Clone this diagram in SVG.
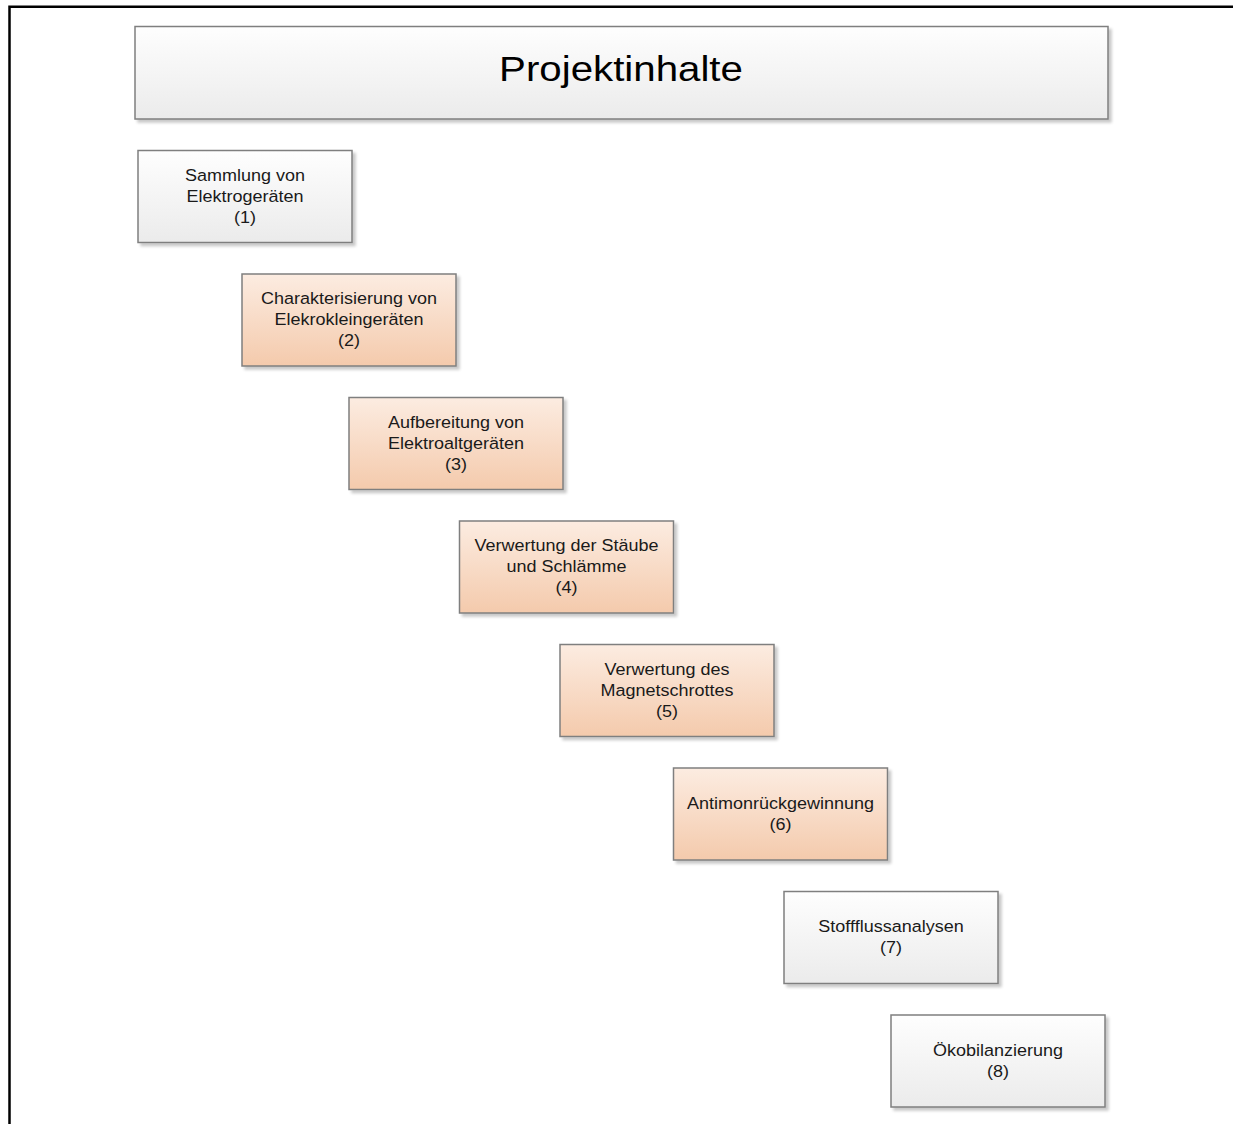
<svg xmlns="http://www.w3.org/2000/svg" width="1233" height="1124" viewBox="0 0 1233 1124">
  <defs>
    <linearGradient id="gGrey" x1="0" y1="0" x2="0" y2="1">
      <stop offset="0" stop-color="#fefefe"/>
      <stop offset="1" stop-color="#ebebeb"/>
    </linearGradient>
    <linearGradient id="gPeach" x1="0" y1="0" x2="0" y2="1">
      <stop offset="0" stop-color="#fcece1"/>
      <stop offset="1" stop-color="#f4caac"/>
    </linearGradient>
    <filter id="shadow" x="-5%" y="-5%" width="115%" height="120%">
      <feGaussianBlur in="SourceAlpha" stdDeviation="1.5"/>
      <feOffset dx="3" dy="3" result="b"/>
      <feComponentTransfer in="b" result="s">
        <feFuncA type="linear" slope="0.22"/>
      </feComponentTransfer>
      <feMerge>
        <feMergeNode in="s"/>
        <feMergeNode in="SourceGraphic"/>
      </feMerge>
    </filter>
  </defs>
  <style>
    .frame { stroke: #000; stroke-width: 2.5; fill: none; }
    .box { stroke: #7f7f7f; stroke-width: 1.5; filter: url(#shadow); }
    .grey { fill: url(#gGrey); }
    .peach { fill: url(#gPeach); }
    .lbl { font-family: "Liberation Sans", Arial, sans-serif; font-size: 17px; fill: #1a1a1a; text-anchor: middle; }
    .title { font-family: "Liberation Sans", Arial, sans-serif; font-size: 35px; fill: #000; text-anchor: middle; }
  </style>

  <rect width="1233" height="1124" fill="#fff"/>

  <!-- page frame: top and left edges -->
  <path class="frame" d="M9.5 1124 V6.8 H1233"/>

  <g id="title">
    <rect class="box grey" x="135" y="26.5" width="973" height="92.5"/>
    <text class="title" transform="translate(621 81) scale(1.15 1)">Projektinhalte</text>
  </g>

  <g id="node1">
    <rect class="box grey" x="138" y="150.5" width="214" height="92"/>
    <text class="lbl" transform="translate(245 180.5) scale(1.06 1)">Sammlung von</text>
    <text class="lbl" transform="translate(245 201.5) scale(1.06 1)">Elektrogeräten</text>
    <text class="lbl" transform="translate(245 222.5) scale(1.06 1)">(1)</text>
  </g>

  <g id="node2">
    <rect class="box peach" x="242" y="274" width="214" height="92"/>
    <text class="lbl" transform="translate(349 304) scale(1.06 1)">Charakterisierung von</text>
    <text class="lbl" transform="translate(349 325) scale(1.06 1)">Elekrokleingeräten</text>
    <text class="lbl" transform="translate(349 346) scale(1.06 1)">(2)</text>
  </g>

  <g id="node3">
    <rect class="box peach" x="349" y="397.5" width="214" height="92"/>
    <text class="lbl" transform="translate(456 427.5) scale(1.06 1)">Aufbereitung von</text>
    <text class="lbl" transform="translate(456 448.5) scale(1.06 1)">Elektroaltgeräten</text>
    <text class="lbl" transform="translate(456 469.5) scale(1.06 1)">(3)</text>
  </g>

  <g id="node4">
    <rect class="box peach" x="459.5" y="521" width="214" height="92"/>
    <text class="lbl" transform="translate(566.5 551) scale(1.06 1)">Verwertung der Stäube</text>
    <text class="lbl" transform="translate(566.5 572) scale(1.06 1)">und Schlämme</text>
    <text class="lbl" transform="translate(566.5 593) scale(1.06 1)">(4)</text>
  </g>

  <g id="node5">
    <rect class="box peach" x="560" y="644.5" width="214" height="92"/>
    <text class="lbl" transform="translate(667 674.5) scale(1.06 1)">Verwertung des</text>
    <text class="lbl" transform="translate(667 695.5) scale(1.06 1)">Magnetschrottes</text>
    <text class="lbl" transform="translate(667 716.5) scale(1.06 1)">(5)</text>
  </g>

  <g id="node6">
    <rect class="box peach" x="673.5" y="768" width="214" height="92"/>
    <text class="lbl" transform="translate(780.5 808.5) scale(1.06 1)">Antimonrückgewinnung</text>
    <text class="lbl" transform="translate(780.5 829.5) scale(1.06 1)">(6)</text>
  </g>

  <g id="node7">
    <rect class="box grey" x="784" y="891.5" width="214" height="92"/>
    <text class="lbl" transform="translate(891 932) scale(1.06 1)">Stoffflussanalysen</text>
    <text class="lbl" transform="translate(891 953) scale(1.06 1)">(7)</text>
  </g>

  <g id="node8">
    <rect class="box grey" x="891" y="1015" width="214" height="92"/>
    <text class="lbl" transform="translate(998 1055.5) scale(1.06 1)">Ökobilanzierung</text>
    <text class="lbl" transform="translate(998 1076.5) scale(1.06 1)">(8)</text>
  </g>

  <!-- no connectors are drawn between the steps -->
  <g id="connectors"/>
</svg>
